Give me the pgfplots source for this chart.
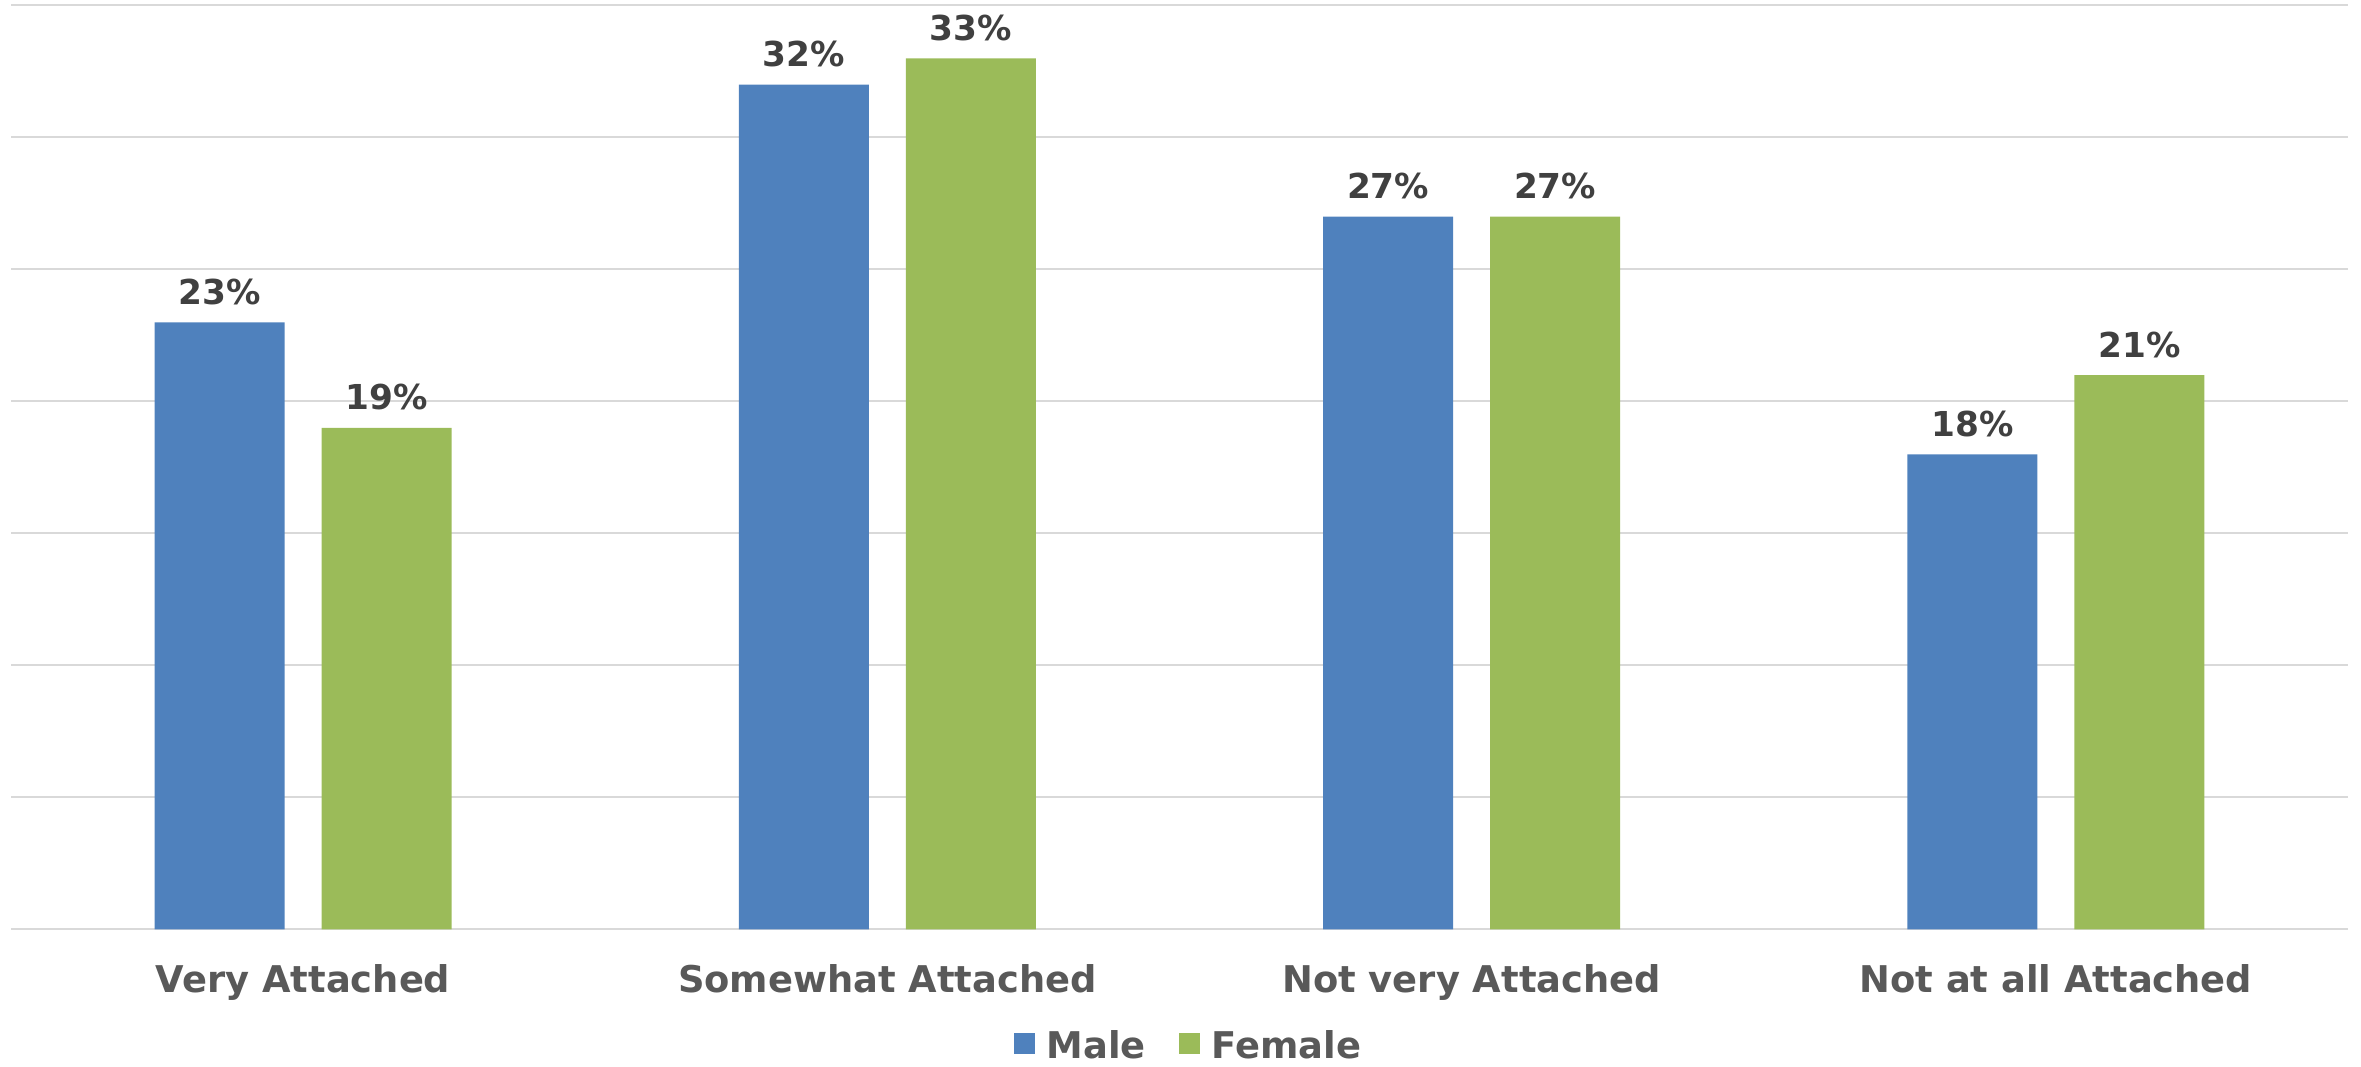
\documentclass[border=0pt]{standalone}
\usepackage{fontspec}
\setmainfont{DejaVu Sans}
\usepackage{pgfplots}
\pgfplotsset{compat=1.18}
\definecolor{cblue}{HTML}{4F81BD}
\definecolor{cgreen}{HTML}{9BBB59}
\definecolor{cgrid}{HTML}{D9D9D9}
\definecolor{ctick}{HTML}{595959}
\definecolor{clabel}{HTML}{404040}
\begin{document}
\begin{tikzpicture}
\begin{axis}[
  name=ax,
  scale only axis,
  width=701.1pt, height=277.2pt,
  ybar=11.1pt, bar width=39pt,
  xmin=-0.5, xmax=3.5,
  ymin=0, ymax=35,
  xtick={0,1,2,3},
  xticklabels={Very Attached, Somewhat Attached, Not very Attached, Not at all Attached},
  ytick={0,5,10,15,20,25,30,35},
  yticklabels={},
  major tick length=0pt,
  ymajorgrids,
  grid style={draw=cgrid, line width=0.6pt},
  axis x line*=bottom,
  axis y line*=left,
  y axis line style={draw=none},
  x axis line style={draw=cgrid, line width=0.6pt, -},
  xticklabel style={font=\fontsize{11.05}{13}\selectfont\bfseries, text=ctick, anchor=base, yshift=-19pt, inner sep=0pt},
  /pgf/number format/assume math mode=true,
  nodes near coords={\pgfmathprintnumber{\pgfplotspointmeta}\%},
  every node near coord/.append style={font=\fontsize{10.3}{12}\selectfont\bfseries, text=clabel, anchor=base, inner sep=0pt, yshift=5.4pt},
  legend columns=2,
  legend style={at={(axis description cs:0.5,0)}, anchor=north, yshift=-30.1pt, xshift=2.4pt, draw=none, inner sep=0pt,
    font=\fontsize{11.05}{13}\selectfont\bfseries, text=ctick,
    nodes={inner sep=0pt},
    /tikz/every even column/.append style={column sep=10pt},
    /tikz/every odd column/.append style={column sep=3.5pt}},
  legend image code/.code={\fill[#1,draw=none] (0pt,-2.2pt) rectangle (6.3pt,4.1pt);},
]
\addplot[fill=cblue, draw=none] coordinates {(0,23) (1,32) (2,27) (3,18)};
\addplot[fill=cgreen, draw=none] coordinates {(0,19) (1,33) (2,27) (3,21)};
\legend{Male, Female}
\end{axis}
\pgfresetboundingbox
\path[use as bounding box] ([xshift=-3.3pt,yshift=-41.25pt]ax.south west) rectangle ([xshift=3.9pt,yshift=1.65pt]ax.north east);
\end{tikzpicture}
\end{document}
